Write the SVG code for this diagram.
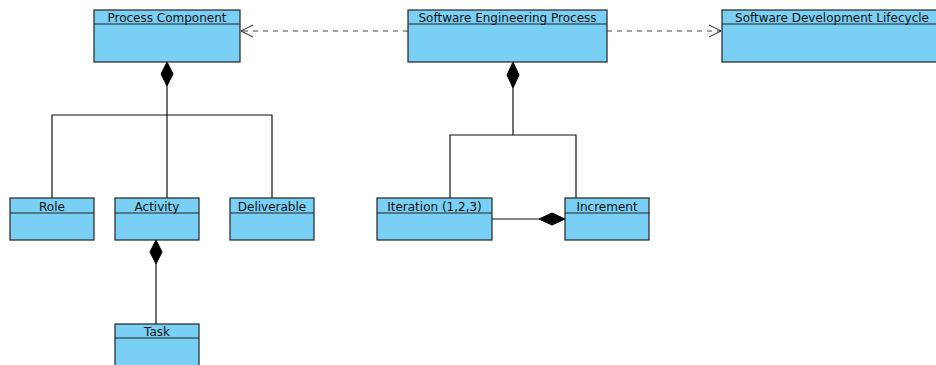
<svg xmlns="http://www.w3.org/2000/svg" width="936" height="365" viewBox="0 0 936 365">
<style>
.box{fill:#7acff4;stroke:#222;stroke-width:1.2}
.div{stroke:#222;stroke-width:1.2}
.t{font-family:"DejaVu Sans",sans-serif;font-size:12px;fill:#111;text-anchor:middle}
.ln{fill:none;stroke:#111;stroke-width:1.2}
.dash{fill:none;stroke:#444;stroke-width:1.2;stroke-dasharray:5,5}
.open{fill:none;stroke:#222;stroke-width:1}
.dia{fill:#000;stroke:#000;stroke-width:1}
</style>
<rect width="936" height="365" fill="#fff"/>
<g id="connectors">
<line class="dash" x1="408" y1="31" x2="241" y2="31"/>
<polyline class="open" points="253,25 241,31 253,37"/>
<line class="dash" x1="607" y1="31" x2="721" y2="31"/>
<polyline class="open" points="709,25 721,31 709,37"/>
<polygon class="dia" points="167,62 173,74 167,86 161,74"/>
<polyline class="ln" points="167,86 167,198"/>
<polyline class="ln" points="52,198 52,115 272,115 272,198"/>
<polygon class="dia" points="156,240 162,252 156,264 150,252"/>
<line class="ln" x1="156" y1="264" x2="156" y2="324"/>
<polygon class="dia" points="513,62 519,75 513,88 507,75"/>
<line class="ln" x1="513" y1="88" x2="513" y2="135"/>
<polyline class="ln" points="450,198 450,135 576,135 576,198"/>
<line class="ln" x1="492" y1="219" x2="539" y2="219"/>
<polygon class="dia" points="565,219 552,213 539,219 552,225"/>
</g>
<g id="process-component">
<rect class="box" x="94" y="10" width="146" height="52"/>
<line class="div" x1="94" y1="24" x2="240" y2="24"/>
<text class="t" x="167" y="21.5">Process Component</text>
</g>
<g id="software-engineering-process">
<rect class="box" x="408" y="10" width="199" height="52"/>
<line class="div" x1="408" y1="24" x2="607" y2="24"/>
<text class="t" x="507.5" y="21.5">Software Engineering Process</text>
</g>
<g id="software-development-lifecycle">
<rect class="box" x="722" y="10" width="220" height="52"/>
<line class="div" x1="722" y1="24" x2="942" y2="24"/>
<text class="t" x="832" y="21.5">Software Development Lifecycle</text>
</g>
<g id="role">
<rect class="box" x="10" y="198" width="84" height="42"/>
<line class="div" x1="10" y1="213" x2="94" y2="213"/>
<text class="t" x="52" y="210.5">Role</text>
</g>
<g id="activity">
<rect class="box" x="115" y="198" width="84" height="42"/>
<line class="div" x1="115" y1="213" x2="199" y2="213"/>
<text class="t" x="157" y="210.5">Activity</text>
</g>
<g id="deliverable">
<rect class="box" x="230" y="198" width="84" height="42"/>
<line class="div" x1="230" y1="213" x2="314" y2="213"/>
<text class="t" x="272" y="210.5">Deliverable</text>
</g>
<g id="task">
<rect class="box" x="115" y="324" width="84" height="52"/>
<line class="div" x1="115" y1="338" x2="199" y2="338"/>
<text class="t" x="157" y="335.5">Task</text>
</g>
<g id="iteration">
<rect class="box" x="377" y="198" width="115" height="42"/>
<line class="div" x1="377" y1="213" x2="492" y2="213"/>
<text class="t" x="434.5" y="210.5">Iteration (1,2,3)</text>
</g>
<g id="increment">
<rect class="box" x="565" y="198" width="84" height="42"/>
<line class="div" x1="565" y1="213" x2="649" y2="213"/>
<text class="t" x="607" y="210.5">Increment</text>
</g>
</svg>
